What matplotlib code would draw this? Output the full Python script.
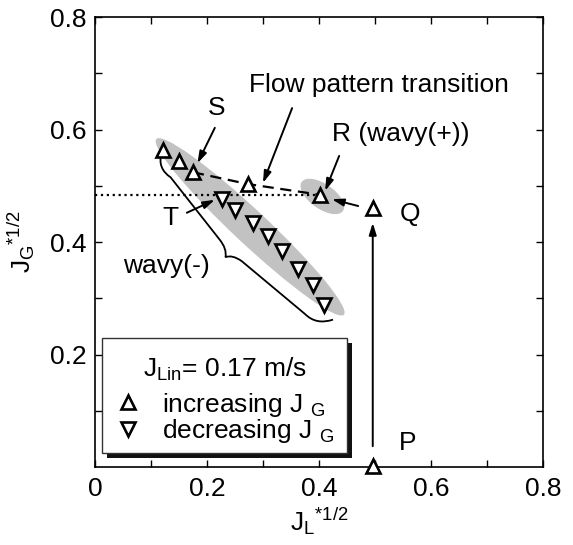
import matplotlib
matplotlib.use('Agg')
import matplotlib.pyplot as plt
from matplotlib.patches import Ellipse, Rectangle, PathPatch
from matplotlib.path import Path

plt.rcParams['font.family'] = ['Liberation Sans', 'DejaVu Sans']
plt.rcParams['mathtext.fontset'] = 'custom'
plt.rcParams['mathtext.rm'] = 'Liberation Sans'
plt.rcParams['mathtext.it'] = 'Liberation Sans:italic'
plt.rcParams['mathtext.default'] = 'regular'

FS = 19.0

# increasing J_G (up triangles), order of the experiment P -> Q -> R -> ... -> top
up_x = [0.121, 0.150, 0.175, 0.273, 0.402, 0.496, 0.496]
up_y = [0.563, 0.544, 0.524, 0.503, 0.484, 0.460, 0.002]

# decreasing J_G (down triangles)
down_x = [0.227, 0.250, 0.282, 0.309, 0.334, 0.363, 0.389, 0.409]
down_y = [0.476, 0.457, 0.434, 0.411, 0.384, 0.352, 0.324, 0.288]

# transition line (dashed) through S, 4th point and R
trans_x = [0.175, 0.273, 0.402]
trans_y = [0.524, 0.503, 0.484]

# dotted horizontal level at R
level_y = 0.483
level_x = [0.0, 0.40]

x_ticks = [0, 0.2, 0.4, 0.6, 0.8]
x_ticklabels = ['0', '0.2', '0.4', '0.6', '0.8']
y_ticks = [0.2, 0.4, 0.6, 0.8]
y_ticklabels = ['0.2', '0.4', '0.6', '0.8']

fig = plt.figure(figsize=(5.73, 5.45), dpi=100)
ax = fig.add_axes([0.1658, 0.1431, 0.7818, 0.8257])
ax.set_xlim(0, 0.8)
ax.set_ylim(0, 0.8)

# gray regions
ax.add_patch(Ellipse((0.277, 0.427), 0.458, 0.060, angle=-43,
                     facecolor='#c2c2c2', edgecolor='none', zorder=1))
ax.add_patch(Ellipse((0.406, 0.481), 0.090, 0.044, angle=-35,
                     facecolor='#c2c2c2', edgecolor='none', zorder=1))

# brace for wavy(-)
brace = Path([(0.118, 0.557), (0.112, 0.530), (0.135, 0.515),
              (0.222, 0.405), (0.236, 0.388), (0.233, 0.373),
              (0.245, 0.378), (0.262, 0.366),
              (0.375, 0.272), (0.395, 0.252), (0.425, 0.262)],
             [Path.MOVETO, Path.CURVE3, Path.CURVE3,
              Path.LINETO, Path.CURVE3, Path.CURVE3,
              Path.CURVE3, Path.CURVE3,
              Path.LINETO, Path.CURVE3, Path.CURVE3])
ax.add_patch(PathPatch(brace, facecolor='none', edgecolor='k', lw=1.3, zorder=2))

ax.plot(level_x, [level_y, level_y], ls=':', color='k', lw=1.6, zorder=2)
ax.plot(trans_x, trans_y, ls='--', dashes=(5, 3), color='k', lw=1.6, zorder=2)

h_up, = ax.plot(up_x, up_y, ls='none', marker='^', ms=10, mew=1.9,
                mfc='white', mec='k', zorder=4, clip_on=False)
h_dn, = ax.plot(down_x, down_y, ls='none', marker='v', ms=10, mew=1.9,
                mfc='white', mec='k', zorder=4)

arr = dict(arrowstyle='-|>,head_length=0.7,head_width=0.22', color='k',
           lw=1.4, shrinkA=0, shrinkB=0)

ax.annotate('', xy=(0.496, 0.434), xytext=(0.496, 0.037), arrowprops=arr)
ax.annotate('', xy=(0.423, 0.476), xytext=(0.470, 0.464), arrowprops=arr)
ax.annotate('', xy=(0.300, 0.505), xytext=(0.352, 0.638), arrowprops=arr)
ax.annotate('', xy=(0.183, 0.540), xytext=(0.214, 0.603), arrowprops=arr)
ax.annotate('', xy=(0.411, 0.491), xytext=(0.436, 0.553), arrowprops=arr)
ax.annotate('', xy=(0.214, 0.475), xytext=(0.164, 0.452), arrowprops=arr)

ax.text(0.507, 0.680, 'Flow pattern transition', fontsize=FS, ha='center', va='center')
ax.text(0.218, 0.639, 'S', fontsize=FS, ha='center', va='center')
ax.text(0.423, 0.592, 'R (wavy(+))', fontsize=FS, ha='left', va='center')
ax.text(0.545, 0.450, 'Q', fontsize=FS, ha='left', va='center')
ax.text(0.134, 0.443, 'T', fontsize=FS, ha='center', va='center')
ax.text(0.050, 0.357, 'wavy(-)', fontsize=FS, ha='left', va='center')
ax.text(0.559, 0.043, 'P', fontsize=FS, ha='center', va='center')

# legend box with solid shadow
bx0, bx1, by0, by1 = 0.0156, 0.5625, 0.031, 0.2867
sdx, sdy = 0.0112, 0.0111
ax.add_patch(Rectangle((bx0 + sdx, by0 - sdy), bx1 - bx0, by1 - by0,
                       transform=ax.transAxes, facecolor='#111111',
                       edgecolor='none', zorder=5))
ax.add_patch(Rectangle((bx0, by0), bx1 - bx0, by1 - by0,
                       transform=ax.transAxes, facecolor='white',
                       edgecolor='#333333', lw=1.0, zorder=6))
ax.text((bx0 + bx1) / 2, 0.218, 'J$_{Lin}$= 0.17 m/s', transform=ax.transAxes,
        fontsize=FS, ha='center', va='center', zorder=7)
leg = ax.legend([h_up, h_dn], ['increasing J $_{G}$', 'decreasing J $_{G}$'],
                loc='center left', bbox_to_anchor=(0.0446, 0.109),
                frameon=False, fontsize=FS, numpoints=1, handlelength=1.0,
                handletextpad=0.8, borderpad=0, borderaxespad=0,
                labelspacing=-0.05)
leg.set_zorder(8)

ax.set_xticks(x_ticks)
ax.set_xticklabels(x_ticklabels)
ax.set_yticks(y_ticks)
ax.set_yticklabels(y_ticklabels)
ax.set_xticks([0.1, 0.3, 0.5, 0.7], minor=True)
ax.set_yticks([0.1, 0.3, 0.5, 0.7], minor=True)
ax.tick_params(which='both', direction='in', top=True, right=True,
               length=5, width=1.0, labelsize=FS)
ax.tick_params(axis='x', pad=7)
ax.tick_params(axis='y', pad=6)
for s in ax.spines.values():
    s.set_linewidth(1.2)

ax.set_xlabel('J$_L$$^{*1/2}$', fontsize=FS)
ax.set_ylabel('J$_G$$^{*1/2}$', fontsize=FS)
ax.xaxis.set_label_coords(0.5, -0.085)
ax.yaxis.set_label_coords(-0.13, 0.5)

fig.savefig('out.png', dpi=100)
